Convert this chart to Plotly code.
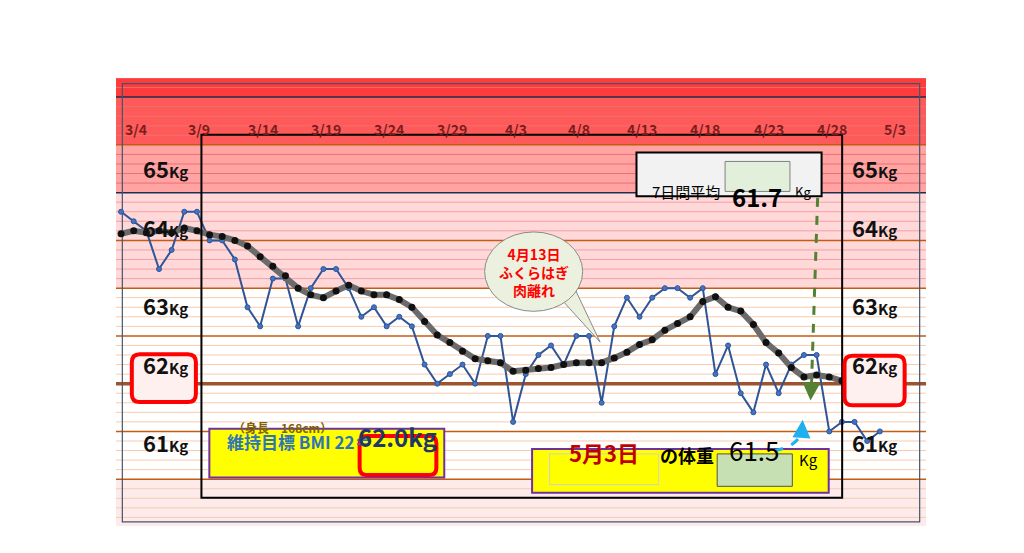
import plotly.graph_objects as go

weight = [63.8,63.7,63.6,63.2,63.4,63.8,63.8,63.5,63.5,63.3,62.8,62.6,63.1,63.1,62.6,63.0,
          63.2,63.2,63.0,62.7,62.8,62.6,62.7,62.6,62.2,62.0,62.1,62.2,62.0,62.5,62.5,61.6,
          62.1,62.3,62.4,62.2,62.5,62.5,61.8,62.6,62.9,62.7,62.9,63.0,63.0,62.9,63.0,62.1,
          62.4,61.9,61.7,62.2,61.9,62.2,62.3,62.3,61.5,61.6,61.6,61.4,61.5]
avg7 = [63.57,63.6,63.58,63.6,63.58,63.63,63.6,63.56,63.54,63.5,63.44,63.33,63.23,63.13,63.0,62.93,
        62.9,62.97,63.03,62.97,62.93,62.93,62.88,62.8,62.65,62.51,62.43,62.34,62.26,62.24,62.22,62.13,
        62.14,62.16,62.17,62.2,62.22,62.22,62.22,62.27,62.33,62.41,62.46,62.56,62.63,62.7,62.86,62.91,
        62.8,62.76,62.62,62.43,62.32,62.17,62.07,62.09,62.07,62.03,62.01,61.92,61.86,61.74]
avg7 = avg7[:61]
tick_labels = ["3/4","3/9","3/14","3/19","3/24","3/29","4/3","4/8","4/13","4/18","4/23","4/28","5/3"]
y_labels = [65, 64, 63, 62, 61]
days = list(range(len(weight)))

FONT = "Noto Sans CJK JP"
fig = go.Figure()
fig.add_trace(go.Scatter(x=days, y=weight, mode="lines+markers",
    line=dict(color="#2f5597", width=2), marker=dict(size=5, color="#4472c4", line=dict(color="#2f5597", width=1))))
fig.add_trace(go.Scatter(x=days, y=avg7, mode="lines", line=dict(color="#6b6b6b", width=6)))
fig.add_trace(go.Scatter(x=days, y=avg7, mode="markers", marker=dict(size=7, color="#111111")))

shapes = []
def band(y0, y1, color):
    shapes.append(dict(type="rect", xref="paper", yref="y", x0=0, x1=1, y0=y0, y1=y1,
                       fillcolor=color, line=dict(width=0), layer="below"))
band(65, 65.3, "#ff3b3b")
band(64.5, 65, "#ff5a5a")
band(64, 64.5, "#ffa3a3")
band(63, 64, "#ffd9d9")
band(60.4, 61, "#fdeaea")
for k in range(604, 653):
    v = k / 10
    if k % 10 == 0 and k in (650, 640):
        continue
    if k == 620:
        c, w = "#a0522d", 3.5
    elif k % 5 == 0:
        c, w = "#c55a11", 1.5
    elif v >= 63:
        c, w = "#f4a0a0" if v < 64 else "#f07070", 1
    else:
        c, w = "#f8cbad", 1
    shapes.append(dict(type="line", xref="paper", yref="y", x0=0, x1=1, y0=v, y1=v,
                       line=dict(color=c, width=w), layer="below"))
for v in (65, 64):
    shapes.append(dict(type="line", xref="paper", yref="y", x0=0, x1=1, y0=v, y1=v,
                       line=dict(color="#1f2d50", width=1.5), layer="below"))

def px(x0, y0, x1, y1, fill, lc, lw, layer="above"):
    shapes.append(dict(type="rect", xref="paper", yref="paper", x0=x0/1024, x1=x1/1024,
             y0=1-y1/553, y1=1-y0/553, fillcolor=fill, line=dict(color=lc, width=lw), layer=layer))

def rrect(x0, y0, x1, y1, r, fill, lc, lw):
    X = lambda x: x/1024
    Y = lambda y: 1-y/553
    path = (f"M{X(x0+r)},{Y(y0)} L{X(x1-r)},{Y(y0)} Q{X(x1)},{Y(y0)} {X(x1)},{Y(y0+r)} "
            f"L{X(x1)},{Y(y1-r)} Q{X(x1)},{Y(y1)} {X(x1-r)},{Y(y1)} L{X(x0+r)},{Y(y1)} "
            f"Q{X(x0)},{Y(y1)} {X(x0)},{Y(y1-r)} L{X(x0)},{Y(y0+r)} Q{X(x0)},{Y(y0)} {X(x0+r)},{Y(y0)} Z")
    shapes.append(dict(type="path", xref="paper", yref="paper", path=path, fillcolor=fill,
                       line=dict(color=lc, width=lw)))

px(8, 7, 1016, 548, "rgba(0,0,0,0)", "#44546a", 1.2, layer="below")
px(108, 70, 918, 518, "rgba(0,0,0,0)", "#000000", 2)
rrect(20, 341, 101, 400, 10, "#fff0f0", "#ff0000", 4)
rrect(921, 343, 997, 404, 10, "#fff0f0", "#ff0000", 4)
px(118, 433, 415, 493, "#ffff00", "#7030a0", 2)
rrect(308, 442, 405, 490, 9, "#ffff00", "#ff0000", 4)
px(526, 458, 901, 512, "#ffff00", "#7030a0", 2)
px(548, 464, 686, 502, "#ffff00", "#d0d0d0", 1)
px(760, 464, 855, 504, "#c6e0b4", "#505050", 1)
px(658, 92, 892, 146, "#f2f2f2", "#000000", 2)
px(770, 103, 852, 140, "#e2efda", "#808080", 1)
X = lambda x: x/1024
Y = lambda y: 1-y/553
shapes.append(dict(type="path", xref="paper", yref="paper",
    path=f"M{X(560)},{Y(270)} L{X(612)},{Y(326)} L{X(580)},{Y(260)} Z",
    fillcolor="#ebf1de", line=dict(color="#8a8a8a", width=1)))
shapes.append(dict(type="circle", xref="paper", yref="paper", x0=X(466), x1=X(590), y0=Y(288), y1=Y(190),
    fillcolor="#ebf1de", line=dict(color="#8a8a8a", width=1)))
shapes.append(dict(type="path", xref="paper", yref="paper",
    path=f"M{X(558)},{Y(274)} L{X(582)},{Y(258)}",
    line=dict(color="#ebf1de", width=3)))
shapes.append(dict(type="line", xref="paper", yref="paper", x0=X(887), y0=Y(148), x1=X(879), y1=Y(385),
    line=dict(color="#548235", width=3, dash="dash")))
shapes.append(dict(type="path", xref="paper", yref="paper",
    path=f"M{X(832)},{Y(460)} Q{X(862)},{Y(455)} {X(867)},{Y(436)}",
    line=dict(color="#1fb0f0", width=3, dash="dash")))

ann = []
for i, tl in enumerate(tick_labels):
    ann.append(dict(x=5*i+1.2, y=1-48/553, xref="x", yref="paper", text=f"<b>{tl}</b>", showarrow=False,
                    font=dict(size=14, color="#7b1c1c", family=FONT)))
for v in y_labels:
    yy = 1 - (280 - (v - 63) * 95.5) / 553
    txt = f"<b>{v}<span style='font-size:15px'>Kg</span></b>"
    ann.append(dict(x=94/1024, y=yy, xref="paper", yref="paper", xanchor="right", text=txt,
                    showarrow=False, font=dict(size=22, color="#111", family=FONT)))
    ann.append(dict(x=928/1024, y=yy, xref="paper", yref="paper", xanchor="left", text=txt,
                    showarrow=False, font=dict(size=22, color="#111", family=FONT)))

def t(x, y, text, size, color, anchor="center"):
    ann.append(dict(x=x/1024, y=1-y/553, xref="paper", yref="paper", text=text, showarrow=False,
                    xanchor=anchor, font=dict(size=size, color=color, family=FONT)))
t(210, 444, "<b>（身長　168cm）</b>", 12, "#7f6000")
t(138, 467, "<b>維持目標 BMI 22＝</b>", 17, "#2e75b6", "left")
t(356, 466, "<b>62.0kg</b>", 24, "#1f3864")
t(617, 484, "<b>5月3日</b>", 22, "#c00000")
t(722, 484, "<b>の体重</b>", 18, "#000")
t(807, 484, "61.5", 26, "#000")
t(875, 486, "Kg", 15, "#000")
t(720, 125, "7日間平均", 15, "#000")
t(810, 122, "<b>61.7</b>", 24, "#000")
t(869, 126, "Kg", 13, "#000")
t(528, 240, "<b>4月13日<br>ふくらはぎ<br>肉離れ</b>", 14, "#ff0000")
ann.append(dict(x=X(878), y=Y(398), ax=1, ay=-20, xref="paper", yref="paper", axref="pixel", ayref="pixel",
                showarrow=True, arrowhead=2, arrowsize=1.2, arrowwidth=3, arrowcolor="#548235", text=""))
ann.append(dict(x=X(868), y=Y(422), ax=-1, ay=16, xref="paper", yref="paper", axref="pixel", ayref="pixel",
                showarrow=True, arrowhead=2, arrowsize=1.2, arrowwidth=3, arrowcolor="#1fb0f0", text=""))

fig.update_layout(width=1024, height=553, margin=dict(l=108, r=106, t=70, b=35),
    paper_bgcolor="white", plot_bgcolor="white", showlegend=False,
    shapes=shapes, annotations=ann,
    xaxis=dict(range=[-0.4, 63.65], showgrid=False, zeroline=False, showticklabels=False),
    yaxis=dict(range=[60.51, 65.2], showgrid=False, zeroline=False, showticklabels=False))
fig.write_html("out.html")
